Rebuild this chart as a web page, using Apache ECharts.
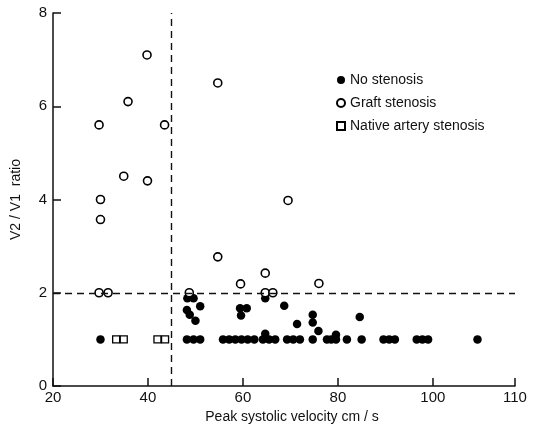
<!DOCTYPE html>
<html>
<head>
<meta charset="utf-8">
<script src="https://cdn.jsdelivr.net/npm/echarts@6/dist/echarts.min.js"></script>
<style>html,body{margin:0;padding:0;background:#fff;}#c{width:544px;height:434px;}</style>
</head>
<body>
<div id="c"></div>
<script>
// Data
const noStenosis = [
  [30,1.0],
  [48.3,1.88],[49.6,1.88],[48.2,1.63],[51.0,1.71],[48.8,1.53],[50.0,1.40],
  [48.2,1.0],[49.6,1.0],[51.0,1.0],
  [55.8,1.0],[57.1,1.0],[58.4,1.0],[59.7,1.0],[61.0,1.0],[62.4,1.0],
  [59.4,1.67],[60.8,1.67],[59.6,1.51],
  [64.7,1.88],[64.7,1.12],
  [64.2,1.0],[65.5,1.0],[66.8,1.0],
  [68.7,1.72],[71.4,1.33],[74.7,1.53],[74.7,1.36],[75.9,1.18],[79.6,1.10],[84.6,1.48],
  [69.3,1.0],[70.6,1.0],[72.0,1.0],[74.7,1.0],[77.7,1.0],[78.6,1.0],[79.6,1.0],[81.9,1.0],[85.0,1.0],
  [89.6,1.0],[90.8,1.0],[92.0,1.0],[96.6,1.0],[97.8,1.0],[99.0,1.0],[109.4,1.0]
];
const graftStenosis = [
  [29.7,5.6],[30,4.0],[30,3.57],[29.7,2.0],[31.6,2.0],[34.9,4.5],[35.8,6.1],
  [39.8,7.1],[39.9,4.4],[43.5,5.6],[48.7,2.0],[54.7,6.5],[54.7,2.77],[59.5,2.19],
  [64.7,2.42],[64.7,2.0],[66.3,2.0],[69.5,3.98],[76.0,2.2]
];
const nativeStenosis = [[33.3,1.0],[34.9,1.0],[42.0,1.0],[43.6,1.0]];
const seriesNames = ['No stenosis','Graft stenosis','Native artery stenosis'];
const xTickValues = [20,40,60,80,100];
const xEndLabel = '110';
const yTickLabels = ['0','2','4','6','8'];
const velocityCutoff = 45;
const ratioCutoff = 2;

const X_MIN = 20, X_MAX = 117.3;
const font = 'Liberation Sans, Arial, sans-serif';
const chart = echarts.init(document.getElementById('c'), null, {renderer:'canvas'});
chart.setOption({
  animation:false,
  backgroundColor:'#fff',
  grid:{left:53, right:29, top:13, bottom:48, containLabel:false},
  legend:{
    orient:'vertical', left:331, top:68, itemWidth:8, itemHeight:8, itemGap:9,
    textStyle:{fontFamily:font, fontSize:14, color:'#111'},
    data:seriesNames
  },
  xAxis:{
    type:'value', min:X_MIN, max:X_MAX, interval:20,
    name:'Peak systolic velocity cm / s', nameLocation:'middle', nameGap:23,
    nameTextStyle:{fontFamily:font, fontSize:14, color:'#111', padding:[0,0,0,16]},
    axisLine:{lineStyle:{color:'#111', width:1.5}},
    axisTick:{inside:true, length:8, lineStyle:{color:'#111', width:1.5}},
    axisLabel:{fontFamily:font, fontSize:15, color:'#111', margin:4,
      showMinLabel:true, showMaxLabel:true,
      formatter:function(v){ return v >= X_MAX - 0.01 ? xEndLabel : (xTickValues.indexOf(v) >= 0 ? String(v) : ''); }},
    splitLine:{show:false}
  },
  yAxis:{
    type:'value', min:0, max:8, interval:2,
    name:'V2 / V1  ratio', nameLocation:'middle', nameGap:30, nameRotate:90,
    nameTextStyle:{fontFamily:font, fontSize:14, color:'#111'},
    axisLine:{show:true, lineStyle:{color:'#111', width:1.5}},
    axisTick:{show:true, inside:true, length:8, lineStyle:{color:'#111', width:1.5}},
    axisLabel:{fontFamily:font, fontSize:15, color:'#111', margin:6,
      formatter:function(v){ return yTickLabels[Math.round(v/2)]; }},
    splitLine:{show:false}
  },
  series:[
    {
      name:seriesNames[0], type:'scatter', symbol:'circle', symbolSize:8.5,
      itemStyle:{color:'#000', opacity:1}, data:noStenosis, z:2,
      markLine:{
        silent:true, symbol:'none', label:{show:false},
        lineStyle:{color:'#111', type:[7,5], width:1.4, opacity:1},
        data:[{xAxis:velocityCutoff},{yAxis:ratioCutoff}]
      }
    },
    {
      name:seriesNames[1], type:'scatter', symbol:'circle', symbolSize:8,
      itemStyle:{color:'#fff', borderColor:'#000', borderWidth:1.6, opacity:1}, data:graftStenosis, z:3
    },
    {
      name:seriesNames[2], type:'scatter', symbol:'rect', symbolSize:7,
      itemStyle:{color:'#fff', borderColor:'#000', borderWidth:1.3, opacity:1}, data:nativeStenosis, z:3
    }
  ]
});
</script>
</body>
</html>
